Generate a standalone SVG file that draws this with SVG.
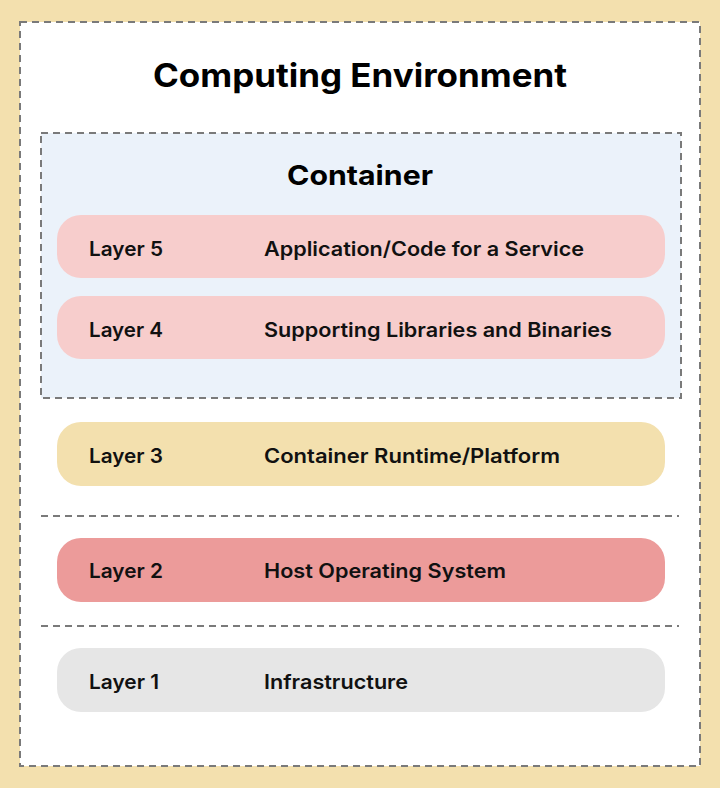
<svg xmlns="http://www.w3.org/2000/svg" width="720" height="788" viewBox="0 0 720 788">
<style>
.dash{fill:none;stroke:#7a7a7a;stroke-width:2;stroke-dasharray:7 5}
.bar{stroke:none}
.lbl{font-family:Inter,"Noto Sans",sans-serif;font-weight:600;font-size:20px;fill:#111}
.ttl{font-family:Inter,"Noto Sans",sans-serif;font-weight:700;fill:#000;text-anchor:middle}
</style>
<rect x="0" y="0" width="720" height="788" fill="#F3E0AE"/>
<g id="computing-environment">
<rect x="20" y="22" width="680" height="744" fill="#FFFFFF"/>
<rect x="20" y="22" width="680" height="744" class="dash"/>
<text class="ttl" x="360" y="87" font-size="32" textLength="414" lengthAdjust="spacingAndGlyphs">Computing Environment</text>
</g>
<g id="container">
<rect x="41" y="133" width="640" height="265" fill="#EBF2FA"/>
<rect x="41" y="133" width="640" height="265" class="dash"/>
<text class="ttl" x="360" y="185" font-size="27.5" textLength="146" lengthAdjust="spacingAndGlyphs">Container</text>
</g>
<g id="layer5">
<rect class="bar" x="57" y="215" width="608" height="63" rx="24" fill="#F7CDCC"/>
<text class="lbl" x="89" y="256" textLength="74" lengthAdjust="spacingAndGlyphs">Layer 5</text>
<text class="lbl" x="264" y="256" textLength="320" lengthAdjust="spacingAndGlyphs">Application/Code for a Service</text>
</g>
<g id="layer4">
<rect class="bar" x="57" y="296" width="608" height="63" rx="24" fill="#F7CDCC"/>
<text class="lbl" x="89" y="337" textLength="74" lengthAdjust="spacingAndGlyphs">Layer 4</text>
<text class="lbl" x="264" y="337" textLength="348" lengthAdjust="spacingAndGlyphs">Supporting Libraries and Binaries</text>
</g>
<g id="layer3">
<rect class="bar" x="57" y="422" width="608" height="64" rx="24" fill="#F3E0AE"/>
<text class="lbl" x="89" y="463" textLength="74" lengthAdjust="spacingAndGlyphs">Layer 3</text>
<text class="lbl" x="264" y="463" textLength="296" lengthAdjust="spacingAndGlyphs">Container Runtime/Platform</text>
</g>
<g id="layer2">
<rect class="bar" x="57" y="538" width="608" height="64" rx="24" fill="#EC9B9A"/>
<text class="lbl" x="89" y="578" textLength="74" lengthAdjust="spacingAndGlyphs">Layer 2</text>
<text class="lbl" x="264" y="578" textLength="242" lengthAdjust="spacingAndGlyphs">Host Operating System</text>
</g>
<g id="layer1">
<rect class="bar" x="57" y="648" width="608" height="64" rx="24" fill="#E6E6E6"/>
<text class="lbl" x="89" y="689" textLength="70" lengthAdjust="spacingAndGlyphs">Layer 1</text>
<text class="lbl" x="264" y="689" textLength="144" lengthAdjust="spacingAndGlyphs">Infrastructure</text>
</g>
<g id="connectors">
<line class="dash" x1="41" y1="516" x2="679" y2="516"/>
<line class="dash" x1="41" y1="626" x2="679" y2="626"/>
</g>
</svg>
